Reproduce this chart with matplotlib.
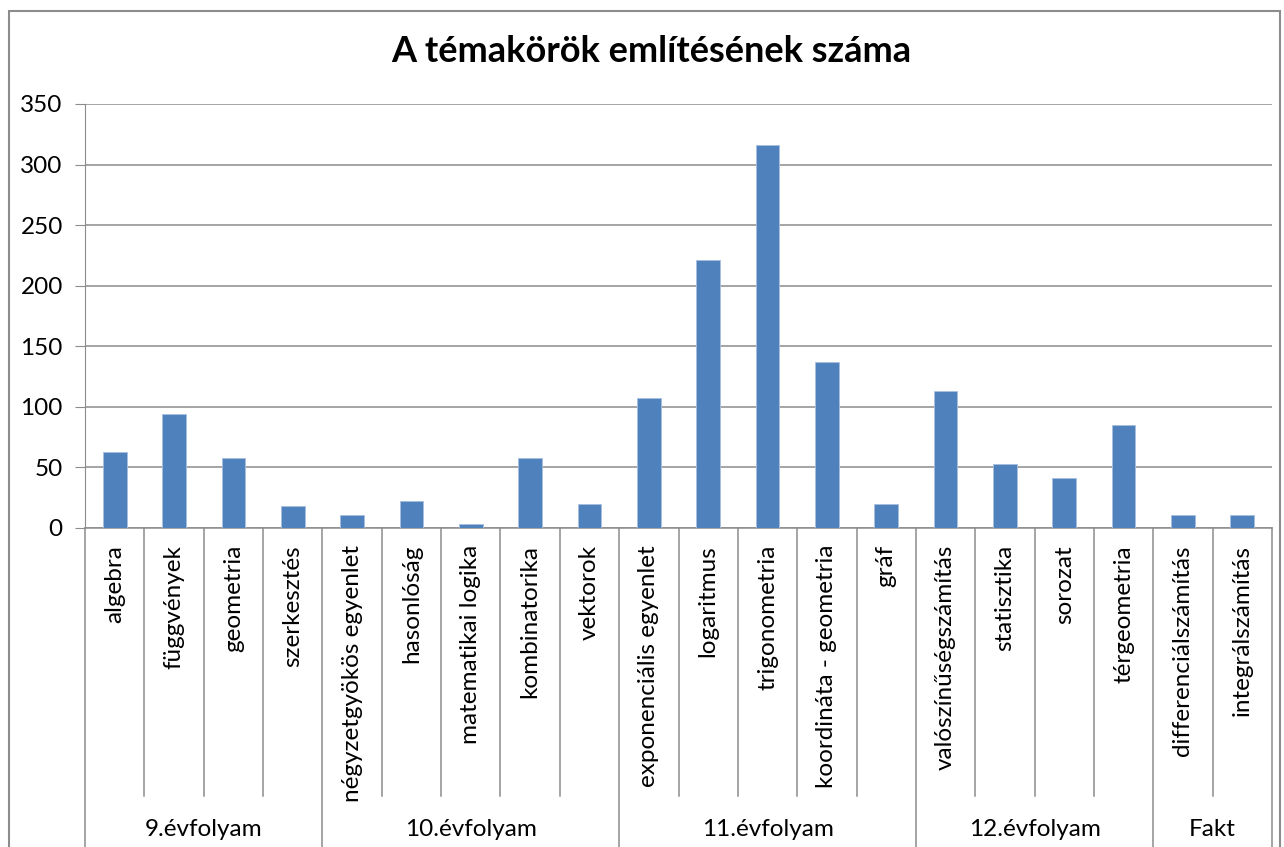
import numpy as np
import matplotlib.pyplot as plt
from matplotlib.patches import Rectangle
import matplotlib.transforms as mtransforms

plt.rcParams['font.family'] = ['Lato', 'DejaVu Sans']

topics = ["algebra", "függvények", "geometria", "szerkesztés",
          "négyzetgyökös egyenlet", "hasonlóság", "matematikai logika",
          "kombinatorika", "vektorok",
          "exponenciális egyenlet", "logaritmus", "trigonometria",
          "koordináta - geometria", "gráf",
          "valószínűségszámítás", "statisztika", "sorozat", "térgeometria",
          "differenciálszámítás", "integrálszámítás"]
counts = [63, 94, 58, 18,
          11, 22, 3, 58, 20,
          107, 221, 316, 137, 20,
          113, 53, 41, 85,
          11, 11]
groups = ["9.évfolyam", "10.évfolyam", "11.évfolyam", "12.évfolyam", "Fakt"]
group_sizes = [4, 5, 5, 4, 2]
yticks = [0, 50, 100, 150, 200, 250, 300, 350]

W, H = 1284, 847
fig = plt.figure(figsize=(W / 100, H / 100), dpi=100)
ax = fig.add_axes([85 / W, 1 - 528 / H, (1272 - 85) / W, (528 - 104) / H])

x = np.arange(len(topics))
ax.bar(x, counts, width=0.4, color='#4F81BD', edgecolor='#A7C0E0', linewidth=0.6, zorder=3)

ax.set_xlim(-0.5, len(topics) - 0.5)
ax.set_ylim(0, 350)
ax.set_yticks(yticks)
ax.set_xticks([])
ax.yaxis.grid(True, color='#8C8C8C', linewidth=1.1)
ax.set_axisbelow(True)
for s in ['top', 'right', 'bottom']:
    ax.spines[s].set_visible(False)
ax.spines['left'].set_color('#8C8C8C')
ax.tick_params(axis='y', length=7, color='#8C8C8C', labelsize=17.5, pad=9)

trans = mtransforms.blended_transform_factory(ax.transData, ax.transAxes)
ax.plot([-0.5, len(topics) - 0.5], [0, 0], color='#8C8C8C', lw=1.1, transform=trans, clip_on=False)

ax_h = 528 - 104
y_lab = (528 - 545) / ax_h
y_inner = (528 - 796) / ax_h
y_outer = (528 - 850) / ax_h
y_group = (528 - 829) / ax_h

for i, t in enumerate(topics):
    ax.text(i, y_lab, t, rotation=90, ha='center', va='top', fontsize=17.5,
            transform=trans)

bounds = np.concatenate([[0], np.cumsum(group_sizes)])
for i in range(len(topics) + 1):
    xb = i - 0.5
    y0 = y_outer if i in bounds else y_inner
    ax.plot([xb, xb], [0, y0], color='#8C8C8C', lw=1.1, transform=trans, clip_on=False)

for g, a, b in zip(groups, bounds[:-1], bounds[1:]):
    ax.text((a + b - 1) / 2, y_group, g, ha='center', va='center', fontsize=17.5,
            transform=trans)

fig.text(651 / W, 1 - 52 / H, "A témakörök említésének száma", ha='center', va='center',
         fontsize=26, fontweight='bold')

fig.patches.append(Rectangle((9 / W, -0.05), (1280 - 9) / W, 1.05 - 11 / H,
                             transform=fig.transFigure, fill=False,
                             edgecolor='#8C8C8C', linewidth=1.5))

fig.savefig('out.png', dpi=100)
